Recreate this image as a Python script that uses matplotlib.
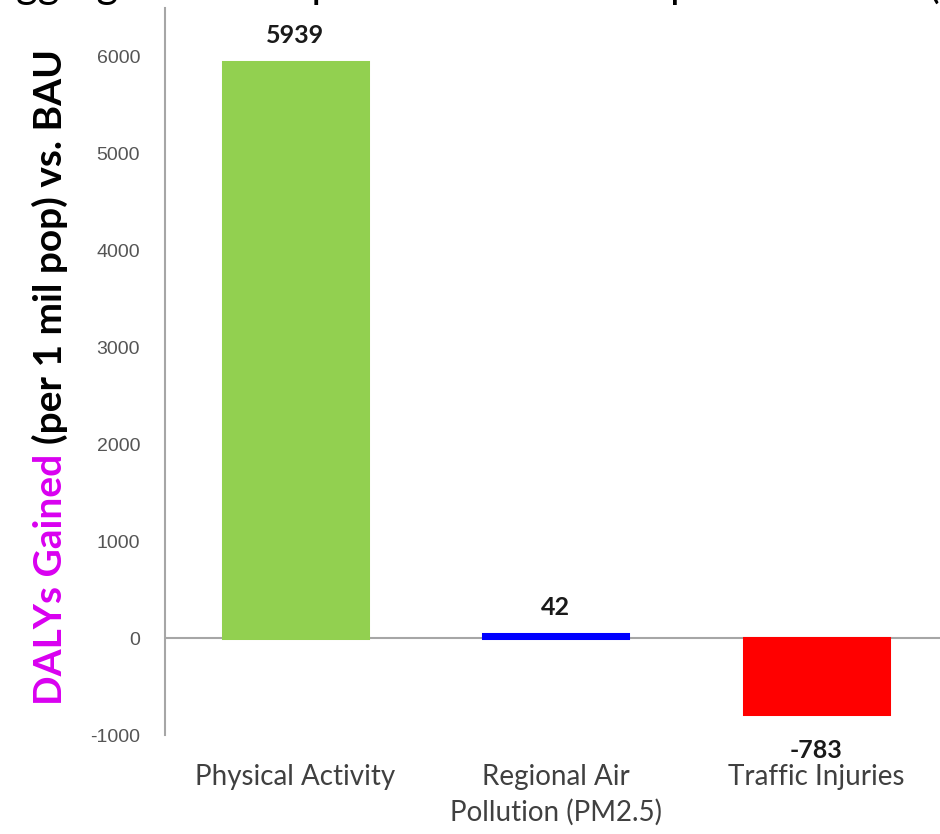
import matplotlib
matplotlib.use("Agg")
import matplotlib.pyplot as plt
import numpy as np

categories = ["Physical Activity", "Regional Air\nPollution (PM2.5)", "Traffic Injuries"]
dalys = [5939, 42, -783]
bar_colors = ["#92D050", "#0000FF", "#FF0000"]
yticks = [-1000, 0, 1000, 2000, 3000, 4000, 5000, 6000]

W, H = 940, 834
fig = plt.figure(figsize=(W / 100, H / 100), dpi=100)
ax = fig.add_axes([165 / W, 1 - 735 / H, (W - 165) / W, 727 / H])

x = np.arange(len(categories))
ax.bar(x, dalys, width=0.556, color=bar_colors, edgecolor=bar_colors, linewidth=2.2, zorder=2)

# value labels, outside end
for xi, v in zip(x, dalys):
    if v >= 0:
        ax.annotate(f"{v}", (xi, v), xytext=(0, 11), textcoords="offset points",
                    ha="center", va="bottom", fontsize=18, fontweight="bold",
                    family="Lato", color="#1a1a1a", annotation_clip=False)
    else:
        ax.annotate(f"{v}", (xi, v), xytext=(0, -18), textcoords="offset points",
                    ha="center", va="top", fontsize=18, fontweight="bold",
                    family="Lato", color="#1a1a1a", annotation_clip=False)

ax.set_xlim(-0.5, 2.475)
ax.set_ylim(-1000, 6500)
ax.axhline(0, color="#a6a6a6", lw=1.5, zorder=1)

for s in ["top", "right", "bottom"]:
    ax.spines[s].set_visible(False)
ax.spines["left"].set_color("#a6a6a6")
ax.spines["left"].set_linewidth(1.5)

ax.set_yticks(yticks)
ax.set_yticklabels([str(t) for t in yticks], family="Liberation Sans", fontsize=14, color="#555555")
ax.tick_params(axis="y", length=0, pad=18)
ax.set_xticks(x)
ax.set_xticklabels(categories, family="Lato", fontsize=20, color="#404040", linespacing=1.4)
ax.tick_params(axis="x", length=0, pad=21)

# two-coloured y label
t1 = fig.text(62 / W, 1 - 705 / H, "DALYs Gained", rotation=90, rotation_mode="anchor",
              ha="left", va="baseline", fontsize=28, fontweight="bold", family="Lato",
              color="#D900F0")
fig.canvas.draw()
bb = t1.get_window_extent()
fig.text(62 / W, (bb.y1 + 10) / H, "(per 1 mil pop) vs. BAU", rotation=90, rotation_mode="anchor",
         ha="left", va="baseline", fontsize=28, fontweight="bold", family="Lato", color="black")

# title cropped at the top edge, as in the reference
fig.text(940 / W, 1 + 2 / H, "Aggregated Transportation Health Impacts in 2030 (", ha="right",
         va="baseline", fontsize=30, family="Lato", color="black")

fig.savefig("out.png", dpi=100)
